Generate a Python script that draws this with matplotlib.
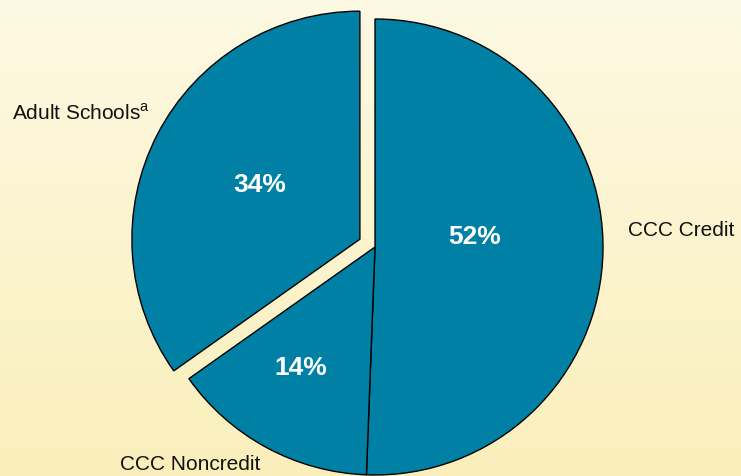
import numpy as np
import matplotlib
matplotlib.use("Agg")
import matplotlib.pyplot as plt
from matplotlib.colors import LinearSegmentedColormap

# shares as drawn (clockwise from 12 o'clock); labels as printed
categories = ["CCC Credit", "CCC Noncredit", "Adult Schools"]
shares = [50.6, 14.6, 34.8]
pct_labels = ["52%", "14%", "34%"]

W, H = 741, 477
R = 228
fig = plt.figure(figsize=(W / 100, H / 100), dpi=100)
ax = fig.add_axes([0, 0, 1, 1])

# cream-to-yellow background gradient
cmap = LinearSegmentedColormap.from_list("bg", ["#faefbb", "#fdf9e3"])
grad = np.linspace(0, 1, 256).reshape(-1, 1)
ax.imshow(grad, extent=[0, W, 0, H], origin="lower", cmap=cmap, aspect="auto", zorder=0)

# explode is in data units here (pie radius is in pixels)
explode = [0, 0, 17]
wedges, _ = ax.pie(shares, explode=explode, startangle=90, counterclock=False,
                   center=(375, H - 248), radius=R, frame=True,
                   colors=["#0080a4"] * 3,
                   wedgeprops=dict(edgecolor="black", linewidth=1.0))
for w in wedges:
    w.set_zorder(2)
ax.set_xlim(0, W)
ax.set_ylim(0, H)
ax.axis("off")

pct_pos = [(475, H - 237), (301, H - 368), (260, H - 185)]
for (x, y), t in zip(pct_pos, pct_labels):
    ax.text(x, y, t, color="white", fontsize=19, fontweight="bold",
            family="Liberation Sans", ha="center", va="center", zorder=3)

font = dict(fontsize=15, family="Liberation Sans", color="#111111", zorder=3)
ax.text(12, H - 113, "Adult Schools$^{\\mathregular{a}}$", ha="left", va="center", **font)
ax.text(628, H - 231, "CCC Credit", ha="left", va="center", **font)
ax.text(120, H - 465, "CCC Noncredit", ha="left", va="center", **font)

fig.savefig("out.png", dpi=100)
